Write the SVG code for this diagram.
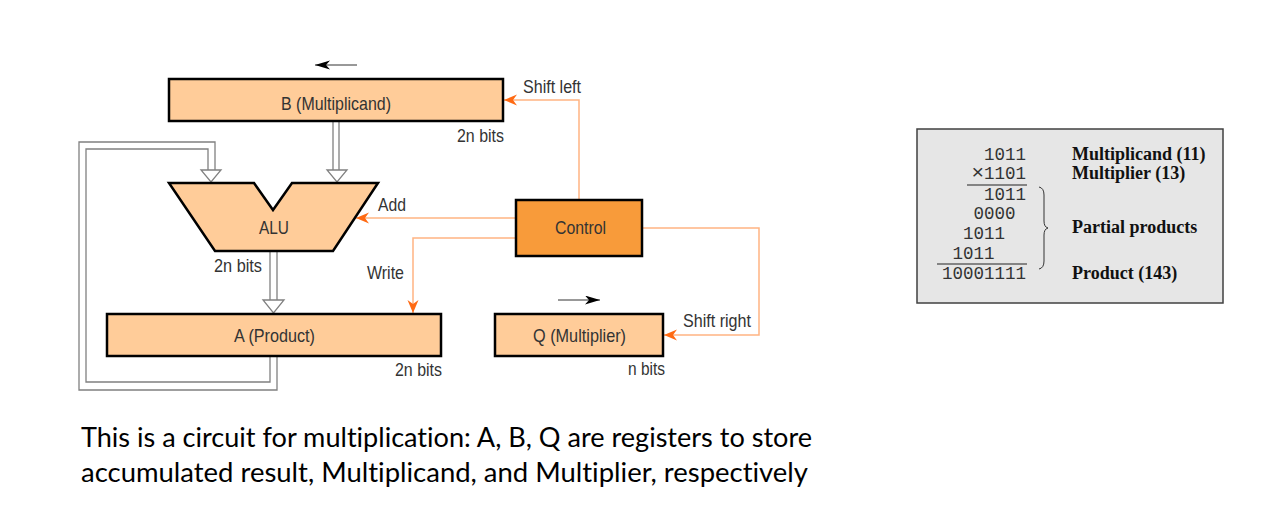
<svg xmlns="http://www.w3.org/2000/svg" width="1266" height="520" viewBox="0 0 1266 520">
<style>
.reg{fill:#FFCC99;stroke:#000;stroke-width:2.5}
.ctl{fill:#F89B3A;stroke:#000;stroke-width:2.5}
.lbl{font-family:"Liberation Sans",Arial,sans-serif;font-size:18.5px;fill:#333}
.ol{fill:none;stroke:#FFB482;stroke-width:1.5}
.bus{fill:none;stroke:#808080;stroke-width:1.3}
.head{fill:#fff;stroke:#808080;stroke-width:1.3;stroke-linejoin:miter}
.mono{font-family:"Liberation Mono","DejaVu Sans Mono",monospace;font-size:17.5px;fill:#333;text-anchor:end}
.bold{font-family:"Liberation Serif","Times New Roman",serif;font-size:18px;font-weight:bold;fill:#111}
.cap{font-family:Lato,"Open Sans","Liberation Sans",sans-serif;font-size:26px;fill:#000;font-variant-ligatures:none;font-feature-settings:"liga" 0,"clig" 0}
</style>
<defs>
<marker id="oa" markerUnits="userSpaceOnUse" markerWidth="14" markerHeight="12" refX="13" refY="5.5" orient="auto">
<path d="M0,0 L13,5.5 L0,11 L4,5.5 z" fill="#FF6A13"/>
</marker>
<marker id="ba" markerUnits="userSpaceOnUse" markerWidth="16" markerHeight="10" refX="15" refY="4.5" orient="auto">
<path d="M0,0 L15,4.5 L0,9 L4,4.5 z" fill="#000"/>
</marker>
</defs>
<rect width="1266" height="520" fill="#fff"/>

<g id="connectors">
<line x1="357" y1="65" x2="315" y2="65" stroke="#333" stroke-width="1" marker-end="url(#ba)"/>
<line x1="558" y1="300" x2="600" y2="300" stroke="#333" stroke-width="1" marker-end="url(#ba)"/>
<path class="bus" d="M333,121 V170 M339,121 V170"/>
<polygon class="head" points="327,170 347,170 337,182"/>
<path class="bus" d="M277,356 V390 H79 V142 H215 V170"/>
<path class="bus" d="M270,356 V382 H86 V149 H208 V170"/>
<polygon class="head" points="201,170 221,170 211,182"/>
<path class="bus" d="M270,251 V300 M277,251 V300"/>
<polygon class="head" points="263,300 284,300 273.5,313"/>
<path class="ol" d="M579,200 V100 H504" marker-end="url(#oa)"/>
<path class="ol" d="M516,218 H356" marker-end="url(#oa)"/>
<path class="ol" d="M516,238 H413 V313" marker-end="url(#oa)"/>
<path class="ol" d="M642,228 H759 V335 H664" marker-end="url(#oa)"/>
<text class="lbl" x="523" y="93" textLength="58" lengthAdjust="spacingAndGlyphs">Shift left</text>
<text class="lbl" x="378" y="211" textLength="28" lengthAdjust="spacingAndGlyphs">Add</text>
<text class="lbl" x="367" y="279" textLength="37" lengthAdjust="spacingAndGlyphs">Write</text>
<text class="lbl" x="683" y="327" textLength="68" lengthAdjust="spacingAndGlyphs">Shift right</text>
</g>

<g id="B">
<rect class="reg" x="169" y="79" width="334" height="42"/>
<text class="lbl" x="281" y="110" textLength="110" lengthAdjust="spacingAndGlyphs">B (Multiplicand)</text>
<text class="lbl" x="457" y="142" textLength="47" lengthAdjust="spacingAndGlyphs">2n bits</text>
</g>

<g id="ALU">
<polygon class="reg" points="169,183 254,183 273,210 292,183 378,183 333,251 215,251"/>
<text class="lbl" x="259" y="234" textLength="30" lengthAdjust="spacingAndGlyphs">ALU</text>
<text class="lbl" x="214" y="272" textLength="48" lengthAdjust="spacingAndGlyphs">2n bits</text>
</g>

<g id="A">
<rect class="reg" x="107" y="314" width="334" height="42"/>
<text class="lbl" x="234" y="342" textLength="81" lengthAdjust="spacingAndGlyphs">A (Product)</text>
<text class="lbl" x="395" y="376" textLength="47" lengthAdjust="spacingAndGlyphs">2n bits</text>
</g>

<g id="Control">
<rect class="ctl" x="516" y="200" width="126" height="56"/>
<text class="lbl" x="555" y="234" textLength="51" lengthAdjust="spacingAndGlyphs">Control</text>
</g>

<g id="Q">
<rect class="reg" x="495" y="314" width="168" height="42"/>
<text class="lbl" x="533" y="342" textLength="93" lengthAdjust="spacingAndGlyphs">Q (Multiplier)</text>
<text class="lbl" x="628" y="375" textLength="37" lengthAdjust="spacingAndGlyphs">n bits</text>
</g>

<g id="example">
<rect x="917" y="129" width="306" height="174" fill="#E6E6E6" stroke="#404040" stroke-width="1.5"/>
<text class="mono" x="1026" y="160">1011</text>
<text class="mono" x="1026" y="179"><tspan font-size="21px">×</tspan>1101</text>
<line x1="967" y1="185" x2="1027" y2="185" stroke="#222" stroke-width="1.2"/>
<text class="mono" x="1026" y="200">1011</text>
<text class="mono" x="1015.5" y="219">0000</text>
<text class="mono" x="1005" y="239">1011</text>
<text class="mono" x="994.5" y="259">1011</text>
<line x1="937" y1="264" x2="1027" y2="264" stroke="#222" stroke-width="1.2"/>
<text class="mono" x="1026" y="279">10001111</text>
<path d="M1039,187 Q1044,188 1044,195 V221 Q1044,227 1048,228 Q1044,229 1044,235 V261 Q1044,268 1039,269" fill="none" stroke="#333" stroke-width="1"/>
<text class="bold" x="1072" y="160">Multiplicand (11)</text>
<text class="bold" x="1072" y="179">Multiplier (13)</text>
<text class="bold" x="1072" y="233">Partial products</text>
<text class="bold" x="1072" y="279">Product (143)</text>
</g>

<g id="caption">
<text class="cap" x="81" y="447" textLength="731" lengthAdjust="spacingAndGlyphs">This is a circuit for multiplication: A, B, Q are registers to store</text>
<text class="cap" x="81" y="482" textLength="727" lengthAdjust="spacingAndGlyphs">accumulated result, Multiplicand, and Multiplier, respectively</text>
</g>
</svg>
